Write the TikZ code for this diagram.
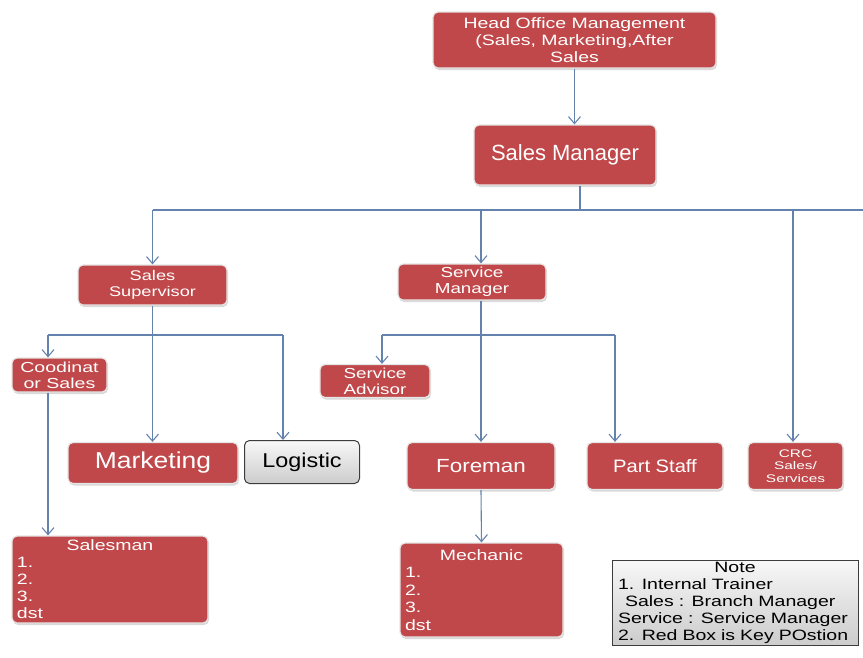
\documentclass[tikz,border=0pt]{standalone}
\usepackage{fontspec}
\setmainfont{Liberation Sans}
\usetikzlibrary{arrows.meta,shadows}
\definecolor{boxred}{RGB}{192,72,74}
\definecolor{linecol}{RGB}{100,130,174}
\definecolor{greyedge}{RGB}{60,60,60}
\newcommand{\boxfont}[3]{\fontsize{#1}{#2}\selectfont\addfontfeatures{FakeStretch=#3}}
\begin{document}
\begin{tikzpicture}[x=1pt,y=-1pt,
  redbox/.style={rounded corners=5pt, fill=boxred, draw=gray!20, line width=1.2pt, text=white,
    align=center, inner sep=1pt, drop shadow={shadow xshift=1pt, shadow yshift=-2pt, opacity=0.3}},
  greybox/.style={rounded corners=5pt, top color=gray!6, bottom color=gray!40, draw=greyedge,
    line width=1pt, text=black, align=center, inner sep=1pt},
  ln/.style={draw=linecol, line width=1.1pt},
  arr/.style={ln, -{Straight Barb[length=7pt,width=12pt,line width=1.1pt]}}
]
\useasboundingbox (0,0) rectangle (863,657);

% nodes
\node[redbox, minimum width=283pt, minimum height=56pt, font=\boxfont{15}{17}{1.3}] (head) at (574.5,40)
  {Head Office Management\\(Sales, Marketing,After\\Sales};
\node[redbox, minimum width=182pt, minimum height=60pt, font=\boxfont{22}{24}{1.0}] (sm) at (565,155) {Sales Manager};
\node[redbox, minimum width=149pt, minimum height=40pt, font=\boxfont{14}{16}{1.3}] (ssup) at (152.5,285) {Sales\\Supervisor};
\node[redbox, minimum width=148pt, minimum height=36pt, font=\boxfont{14.5}{16}{1.3}] (svm) at (472,282) {Service\\Manager};
\node[redbox, minimum width=95pt, minimum height=34pt, font=\boxfont{14.5}{16}{1.35}] (coord) at (59.5,375) {Coodinat\\or Sales};
\node[redbox, minimum width=110pt, minimum height=33pt, font=\boxfont{14.5}{16}{1.3}] (sadv) at (375,381) {Service\\Advisor};
\node[redbox, minimum width=170pt, minimum height=41pt, font=\boxfont{23}{25}{1.15}] (mkt) at (153,463) {Marketing};
\node[greybox, minimum width=115pt, minimum height=43pt, font=\boxfont{20}{22}{1.17}] (logi) at (302,462) {Logistic};
\node[redbox, minimum width=148pt, minimum height=47pt, font=\boxfont{19}{22}{1.18}] (fore) at (481,466) {Foreman};
\node[redbox, minimum width=136pt, minimum height=47pt, font=\boxfont{18}{20}{1.12}] (part) at (655,466) {Part Staff};
\node[redbox, minimum width=95pt, minimum height=47pt, font=\boxfont{11}{12.5}{1.4}] (crc) at (795.5,466) {CRC\\Sales/\\Services};
\node[redbox, minimum width=196pt, minimum height=87pt, text width=186pt, align=left, font=\boxfont{15}{17}{1.3}] (sal) at (110,579.5)
  {\makebox[\linewidth]{Salesman}\\1.\\2.\\3.\\dst};
\node[redbox, minimum width=163pt, minimum height=94pt, text width=153pt, align=left, font=\boxfont{15}{17.5}{1.3}] (mech) at (481.5,590)
  {\makebox[\linewidth]{Mechanic}\\1.\\2.\\3.\\dst};
\node[greybox, rounded corners=0pt, minimum width=246pt, minimum height=85pt, text width=234pt, align=left, font=\boxfont{15}{17}{1.3}] (note) at (735,602.5)
  {\makebox[\linewidth]{Note}\\1. Internal Trainer\\\hspace*{7pt}Sales : Branch Manager\\Service : Service Manager\\2. Red Box is Key POstion};

% connectors
\draw[arr] (head.south) -- (head.south |- sm.north);
\coordinate (smbus) at (580,210);
\coordinate (busL) at (152.5,210);
\coordinate (busR) at (863,210);
\coordinate (svbus) at (481,210);
\coordinate (crcbus) at (793,210);
\draw[ln] (sm.south -| smbus) -- (smbus);
\draw[ln] (busL) -- (busR);
\draw[arr] (busL) -- (ssup.north);
\draw[arr] (svbus) -- (svbus |- svm.north);
\draw[arr] (crcbus) -- (crcbus |- crc.north);

\coordinate (sb1) at (48,335);
\coordinate (sb2) at (283,335);
\draw[ln] (sb1) -- (sb2);
\draw[arr] (sb1) -- (sb1 |- coord.north);
\draw[arr] (sb2) -- (sb2 |- logi.north);
\draw[arr] (ssup.south) -- (ssup.south |- mkt.north);
\draw[arr] (coord.south -| sb1) -- (sb1 |- sal.north);

\coordinate (vb1) at (382,335);
\coordinate (vb2) at (615,335);
\draw[ln] (vb1) -- (vb2);
\draw[arr] (vb1) -- (vb1 |- sadv.north);
\draw[arr] (vb2) -- (vb2 |- part.north);
\draw[arr] (svm.south -| svbus) -- (svbus |- fore.north);
\draw[arr] (fore.south) -- (mech.north);
\end{tikzpicture}
\end{document}
